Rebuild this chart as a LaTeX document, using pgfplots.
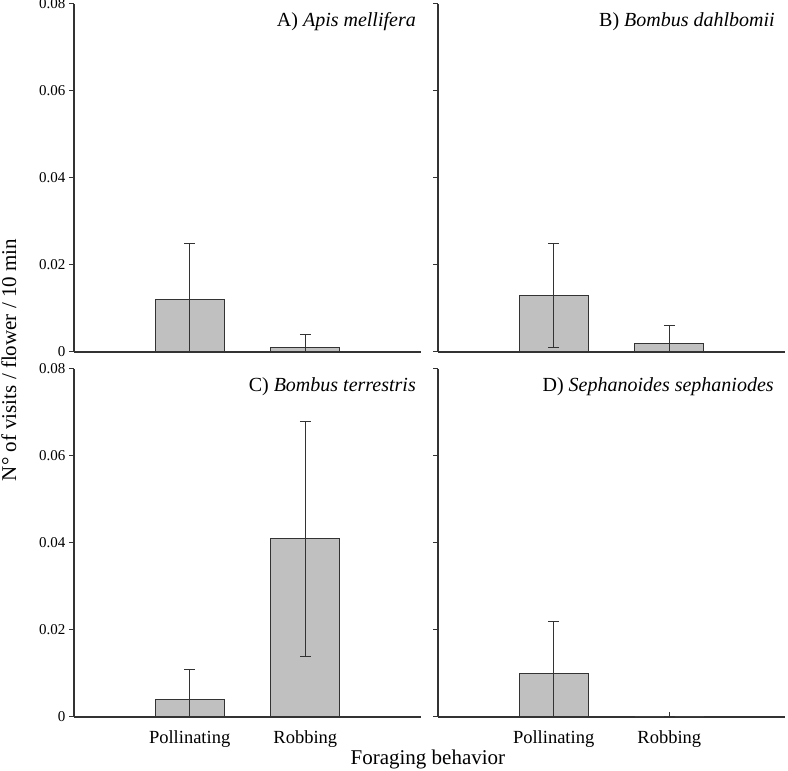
\documentclass[border=0pt]{standalone}
\usepackage{pgfplots}
\pgfplotsset{compat=1.18}
\usepackage{fontspec}
\setmainfont{Liberation Serif}
\definecolor{barfill}{HTML}{C0C0C0}
\definecolor{linec}{HTML}{333333}
\pgfplotsset{
  panel/.style={
    scale only axis, width=347pt, height=348pt,
    xmin=0, xmax=3, ymin=0, ymax=0.08,
    axis x line*=bottom, axis y line*=left,
    axis line style={line width=1.1pt, color=linec, -},
    ytick={0,0.02,0.04,0.06,0.08},
    scaled y ticks=false,
    /pgf/number format/assume math mode=true,
    xtick={1,2},
    tick align=outside, major tick length=5pt,
    tick style={line width=1pt, color=linec},
    xtick style={yshift=5pt},
    yticklabel style={font=\fontsize{15}{18}\selectfont},
    xticklabel style={font=\fontsize{18.5}{22}\selectfont, yshift=-5pt},
    clip=true,
  },
  bars/.style={
    ybar, bar width=69pt, fill=barfill, draw=linec, line width=1pt,
    error bars/.cd, y dir=both, y explicit,
    error bar style={line width=1pt, color=linec},
    error mark options={rotate=90, mark size=5.5pt, line width=1pt, color=linec},
  },
}
\tikzset{ptitle/.style={anchor=base east, font=\fontsize{20}{24}\selectfont, inner sep=0pt}}
\begin{document}
\begin{tikzpicture}[x=1pt,y=1pt]
\useasboundingbox (0,0) rectangle (788,771);
% A
\begin{axis}[panel, at={(74pt,419pt)}, anchor=south west,
  yticklabels={0,0.02,0.04,0.06,0.08}, xticklabels={}]
\addplot[bars] coordinates {(1,0.012) +- (0,0.013) (2,0.001) +- (0,0.003)};
\node[ptitle] at (axis description cs:0.9856,0.935) {A) \textit{Apis mellifera}};
\end{axis}
% B
\begin{axis}[panel, at={(438pt,419pt)}, anchor=south west,
  yticklabels={}, xticklabels={}]
\addplot[bars] coordinates {(1,0.013) +- (0,0.012) (2,0.002) +- (0,0.004)};
\node[ptitle] at (axis description cs:0.971,0.935) {B) \textit{Bombus dahlbomii}};
\end{axis}
% C
\begin{axis}[panel, at={(74pt,54pt)}, anchor=south west,
  yticklabels={0,0.02,0.04,0.06,0.08}, xticklabels={Pollinating,Robbing},
  xlabel={Foraging behavior},
  xlabel style={at={(axis description cs:1.02,0)}, anchor=base, yshift=-48pt, inner sep=0pt, font=\fontsize{21}{25}\selectfont},
  ylabel={N° of visits / flower / 10 min},
  ylabel style={at={(axis description cs:-0.167,1.026)}, anchor=base, inner sep=0pt, font=\fontsize{21}{25}\selectfont}]
\addplot[bars] coordinates {(1,0.004) +- (0,0.007) (2,0.041) +- (0,0.027)};
\node[ptitle] at (axis description cs:0.9856,0.935) {C) \textit{Bombus terrestris}};
\end{axis}
% D
\begin{axis}[panel, at={(438pt,54pt)}, anchor=south west,
  yticklabels={}, xticklabels={Pollinating,Robbing}]
\addplot[bars] coordinates {(1,0.010) +- (0,0.012) (2,0) +- (0,0)};
\node[ptitle] at (axis description cs:0.968,0.935) {D) \textit{Sephanoides sephaniodes}};
\end{axis}
\end{tikzpicture}
\end{document}
